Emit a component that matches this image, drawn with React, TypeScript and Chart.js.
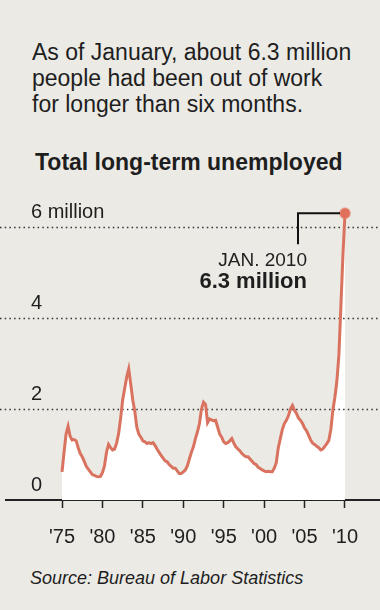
import { useEffect, useRef } from "react";
import { Chart, registerables } from "chart.js";

Chart.register(...registerables);

// Total long-term unemployed (27 weeks and over), millions, quarterly from Q1 1975 to Jan 2010
const startYear = 1975;
const quarterlyValues = [
  0.62, 1.05, 1.45, 1.62,
  1.40, 1.32, 1.33, 1.30,
  1.15, 1.02, 0.95, 0.85,
  0.74, 0.68, 0.62, 0.56,
  0.54, 0.52, 0.51, 0.52,
  0.60, 0.75, 1.05, 1.22,
  1.15, 1.10, 1.12, 1.25,
  1.46, 1.80, 2.20, 2.45,
  2.70, 2.88, 2.55, 2.20,
  1.95, 1.60, 1.45, 1.38,
  1.30, 1.28, 1.24, 1.26,
  1.24, 1.26, 1.20, 1.12,
  1.05, 0.98, 0.92, 0.86,
  0.84, 0.78, 0.74, 0.70,
  0.70, 0.64, 0.58, 0.58,
  0.62, 0.66, 0.75, 0.90,
  1.05, 1.17, 1.35, 1.50,
  1.68, 2.00, 2.15, 2.10,
  1.70, 1.78, 1.76, 1.74,
  1.75, 1.60, 1.45, 1.38,
  1.28, 1.24, 1.26, 1.30,
  1.35, 1.25, 1.17, 1.12,
  1.08, 1.02, 0.98, 0.95,
  0.95, 0.90, 0.85, 0.80,
  0.78, 0.72, 0.69, 0.66,
  0.64, 0.62, 0.63, 0.62,
  0.62, 0.70, 0.82, 1.15,
  1.35, 1.55, 1.68, 1.75,
  1.85, 2.00, 2.08, 1.97,
  1.90, 1.80, 1.75, 1.68,
  1.58, 1.52, 1.42, 1.32,
  1.25, 1.22, 1.18, 1.15,
  1.10, 1.12, 1.18, 1.24,
  1.31, 1.55, 1.97, 2.26,
  2.62, 3.20, 4.30, 5.40,
  6.30,
];

const xTicks = [1975, 1980, 1985, 1990, 1995, 2000, 2005, 2010];
const xTickLabels = ["'75", "'80", "'85", "'90", "'95", "'00", "'05", "'10"];
const yTicks = [0, 2, 4, 6];
const yTickLabels = ["0", "2", "4", "6 million"];
const endDateLabel = "JAN. 2010";
const endValueLabel = "6.3 million";

const BG = "#ebeae5";
const LINE = "#d9735f";
const TEXT = "#1e1e1e";
const FONT = "'Liberation Sans', Arial, Helvetica, sans-serif";

export default function App() {
  const canvasRef = useRef<HTMLCanvasElement | null>(null);

  useEffect(() => {
    document.body.style.margin = "0";
    document.body.style.background = BG;
    const canvas = canvasRef.current;
    if (!canvas) return;

    const points = quarterlyValues.map((v, i) => ({ x: startYear + i / 4, y: v }));
    const lastIndex = points.length - 1;
    const lastPoint = points[lastIndex];

    const overlay = {
      id: "overlay",
      afterDatasetDraw(chart: any, args: any) {
        if (args.index !== 1) return;
        const { ctx } = chart;
        const y = chart.scales.y;
        ctx.save();
        ctx.strokeStyle = "#333";
        ctx.lineWidth = 1.5;
        ctx.setLineDash([1.5, 3.2]);
        yTicks.forEach((v) => {
          if (v === 0) return;
          const py = Math.round(y.getPixelForValue(v)) + 0.5;
          ctx.beginPath();
          ctx.moveTo(0, py);
          ctx.lineTo(chart.width, py);
          ctx.stroke();
        });
        ctx.restore();
      },
      afterDraw(chart: any) {
        const { ctx } = chart;
        const x = chart.scales.x;
        const y = chart.scales.y;
        ctx.save();
        // y labels
        ctx.fillStyle = TEXT;
        ctx.font = `20px ${FONT}`;
        ctx.textAlign = "left";
        ctx.textBaseline = "alphabetic";
        yTicks.forEach((v, i) => {
          const py = y.getPixelForValue(v);
          ctx.fillText(yTickLabels[i], 31, py - 9);
        });
        // annotation
        const px = x.getPixelForValue(lastPoint.x);
        const py = y.getPixelForValue(lastPoint.y);
        ctx.strokeStyle = "#111";
        ctx.lineWidth = 2;
        ctx.beginPath();
        ctx.moveTo(px - 5, py);
        ctx.lineTo(px - 47, py);
        ctx.lineTo(px - 47, py + 31);
        ctx.stroke();
        ctx.textAlign = "right";
        ctx.fillStyle = TEXT;
        ctx.font = `19px ${FONT}`;
        ctx.fillText(endDateLabel, px - 38, py + 53);
        ctx.font = `bold 22px ${FONT}`;
        ctx.fillText(endValueLabel, px - 38, py + 75);
        ctx.restore();
      },
    };

    const chart = new Chart(canvas, {
      type: "line",
      data: {
        datasets: [
          {
            data: points,
            borderColor: LINE,
            borderWidth: 3,
            fill: false,
            tension: 0,
            clip: false as any,
            pointRadius: (c: any) => (c.dataIndex === lastIndex ? 5 : 0),
            pointBackgroundColor: "#e0705c",
            pointBorderColor: "rgba(230,120,100,0.5)",
            pointBorderWidth: 2,
            pointHoverRadius: 0,
          },
          {
            data: points,
            borderWidth: 0,
            backgroundColor: "#ffffff",
            fill: "origin",
            tension: 0,
            pointRadius: 0,
          },
        ],
      },
      options: {
        responsive: false,
        animation: false,
        devicePixelRatio: 1,
        events: [],
        layout: { autoPadding: false, padding: { left: 6, right: 0, top: 14.25, bottom: 5 } },
        plugins: { legend: { display: false }, tooltip: { enabled: false } },
        scales: {
          x: {
            type: "linear",
            position: "bottom",
            min: 1968.07,
            max: 2014.33,
            afterBuildTicks: (s: any) => {
              s.ticks = xTicks.map((v) => ({ value: v }));
            },
            afterFit: (s: any) => {
              s.height = 55;
            },
            grid: {
              drawOnChartArea: false,
              drawTicks: true,
              tickLength: 8,
              tickColor: "#222",
              tickWidth: 1.5,
            },
            border: { display: true, color: "#222", width: 2 },
            ticks: {
              autoSkip: false,
              maxRotation: 0,
              padding: 17,
              color: TEXT,
              font: { family: FONT, size: 20 },
              callback: (v: any) => {
                const i = xTicks.indexOf(Number(v));
                return i >= 0 ? xTickLabels[i] : "";
              },
            },
          },
          y: {
            type: "linear",
            display: false,
            min: 0,
            max: 6.5,
          },
        },
      },
      plugins: [overlay],
    } as any);

    return () => chart.destroy();
  }, []);

  return (
    <div style={{ position: "relative", width: 380, height: 610, background: BG, overflow: "hidden", fontFamily: FONT, color: TEXT }}>
      <div style={{ position: "absolute", left: 32, top: 39, fontSize: 23, lineHeight: "26px", whiteSpace: "nowrap" }}>
        As of January, about 6.3 million<br />
        people had been out of work<br />
        for longer than six months.
      </div>
      <div style={{ position: "absolute", left: 35, top: 149, fontSize: 23, lineHeight: "26px", fontWeight: "bold", whiteSpace: "nowrap" }}>
        Total long-term unemployed
      </div>
      <canvas ref={canvasRef} width={380} height={370} style={{ position: "absolute", left: 0, top: 190, width: 380, height: 370 }} />
      <div style={{ position: "absolute", left: 30, top: 568, fontSize: 18, lineHeight: "20px", fontStyle: "italic", whiteSpace: "nowrap" }}>
        Source: Bureau of Labor Statistics
      </div>
    </div>
  );
}
